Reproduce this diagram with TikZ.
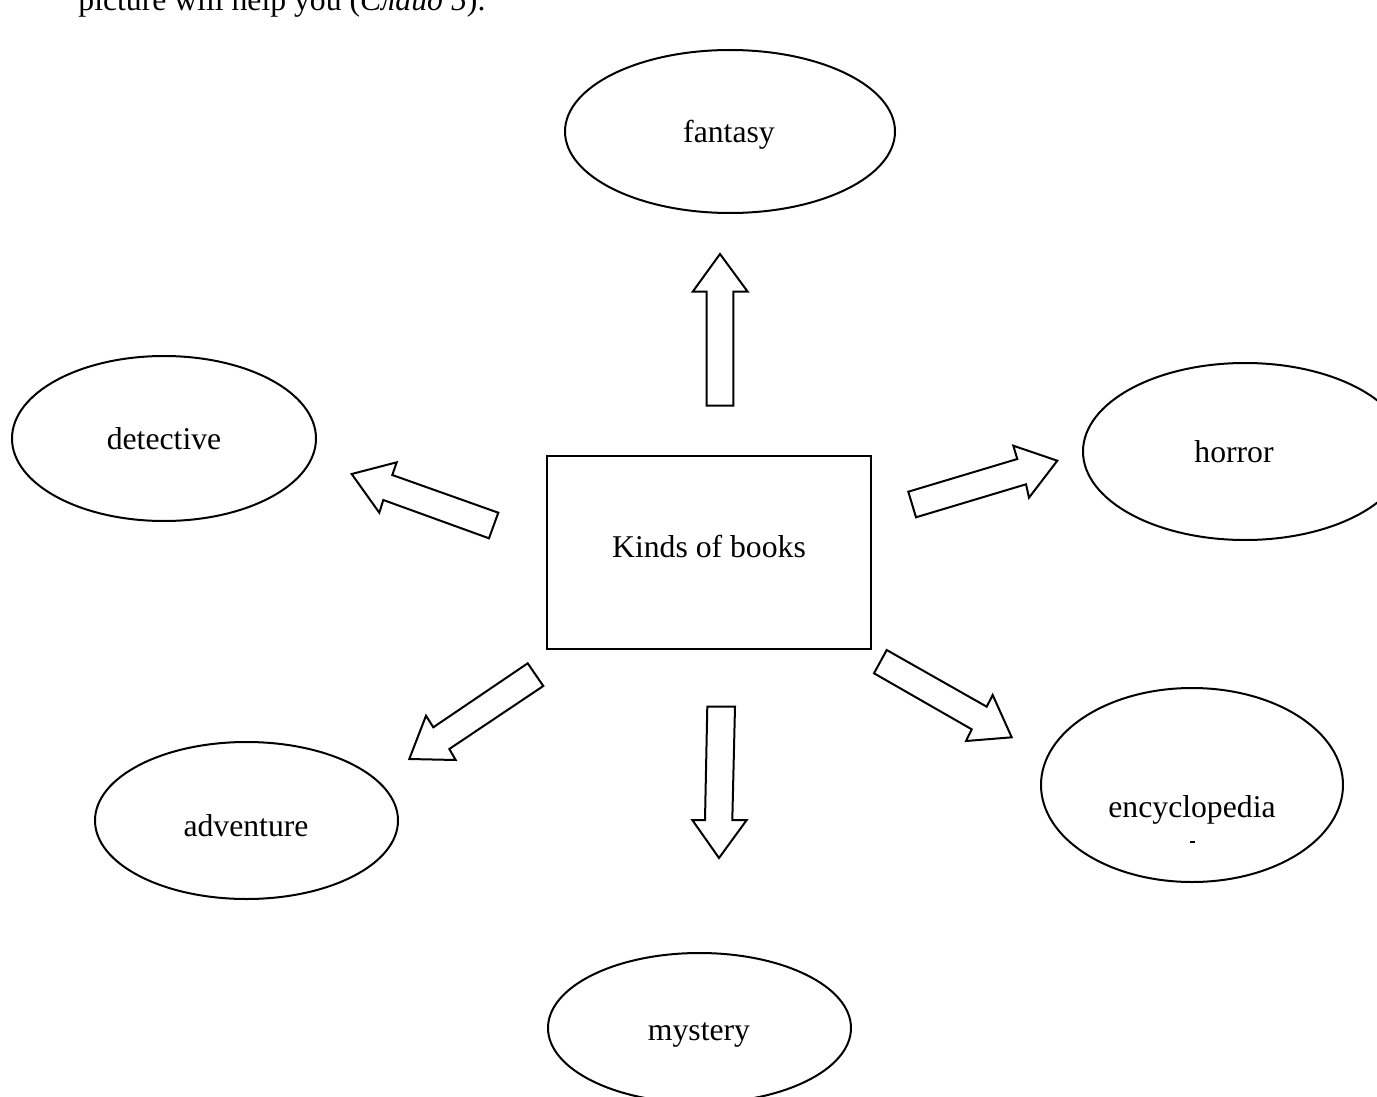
\documentclass[tikz,border=0pt]{standalone}
\usepackage{fontspec}
\setmainfont{Liberation Serif}
\usetikzlibrary{shapes.geometric}
\tikzset{
  oval/.style={draw, line width=1pt, ellipse, inner sep=0pt},
  lbl/.style={anchor=base, inner sep=0pt, font=\fontsize{15.85}{19}\selectfont},
  blockarr/.style={draw, line width=1pt, line join=miter, fill=white},
}
\begin{document}
\begin{tikzpicture}[x=0.5pt, y=-0.5pt]
\useasboundingbox (0,0) rectangle (1377,1097);
\clip (0,0) rectangle (1377,1097);
% cut-off line of text at the top
\node[lbl, anchor=base west] (toptext) at (78,11) {picture will help you (\textit{Слайд 5}).};
% ellipses
\node[oval, minimum width=165pt, minimum height=81.5pt] (fantasy) at (730,131.5) {};
\node[oval, minimum width=152pt, minimum height=82.5pt] (detective) at (164,438.5) {};
\node[oval, minimum width=162pt, minimum height=88.5pt] (horror) at (1245,451.5) {};
\node[oval, minimum width=151.5pt, minimum height=78.5pt] (adventure) at (246.5,820.5) {};
\node[oval, minimum width=151pt, minimum height=97pt] (encyclopedia) at (1192,785) {};
\node[oval, minimum width=151.5pt, minimum height=75pt] (mystery) at (699.5,1028) {};
% central box
\node[draw, line width=1pt, minimum width=161.7pt, minimum height=96.7pt, inner sep=0pt] (kinds) at (709,552.3) {};
% texts
\node[lbl] (tfantasy) at (729,142) {fantasy};
\node[lbl] (tdetective) at (164,449) {detective};
\node[lbl] (thorror) at (1234,462) {horror};
\node[lbl] (tkinds) at (709,557) {Kinds of books};
\node[lbl] (tadventure) at (246,836) {adventure};
\node[lbl] (tency) at (1192,817) {encyclopedia};
\node[lbl] (tmystery) at (699,1040) {mystery};
\coordinate (dashA) at (1190,842);
\coordinate (dashB) at (1195,842);
\draw[line width=0.6pt] (dashA) -- (dashB);
% block arrows
\draw[blockarr] (706.7,405.7) -- (706.7,291.7) -- (692.7,291.7) -- (720,254) -- (747.7,291.7) -- (733.3,291.7) -- (733.3,405.7) -- cycle;
\draw[blockarr] (707.3,706.7) -- (735,706.7) -- (732.3,820) -- (746.7,820) -- (719,858) -- (692.3,820) -- (705,820) -- cycle;
\draw[blockarr] (498.3,512.7) -- (392.3,475) -- (396.7,462.3) -- (351.7,474) -- (379.3,512.7) -- (383.3,500) -- (489,538.3) -- cycle;
\draw[blockarr] (908.3,491.7) -- (1017.3,459) -- (1013.3,445.7) -- (1057.3,460.7) -- (1029,497.7) -- (1026,484.3) -- (916,517.3) -- cycle;
\draw[blockarr] (527.7,663.3) -- (543.3,686) -- (449.3,749) -- (455.7,760) -- (409.3,759) -- (426,715.7) -- (433.3,727.3) -- cycle;
\draw[blockarr] (886.7,650) -- (986.7,706.7) -- (992.7,695) -- (1011.7,737.3) -- (966,741) -- (971.7,729.3) -- (874,673.3) -- cycle;
\end{tikzpicture}
\end{document}
